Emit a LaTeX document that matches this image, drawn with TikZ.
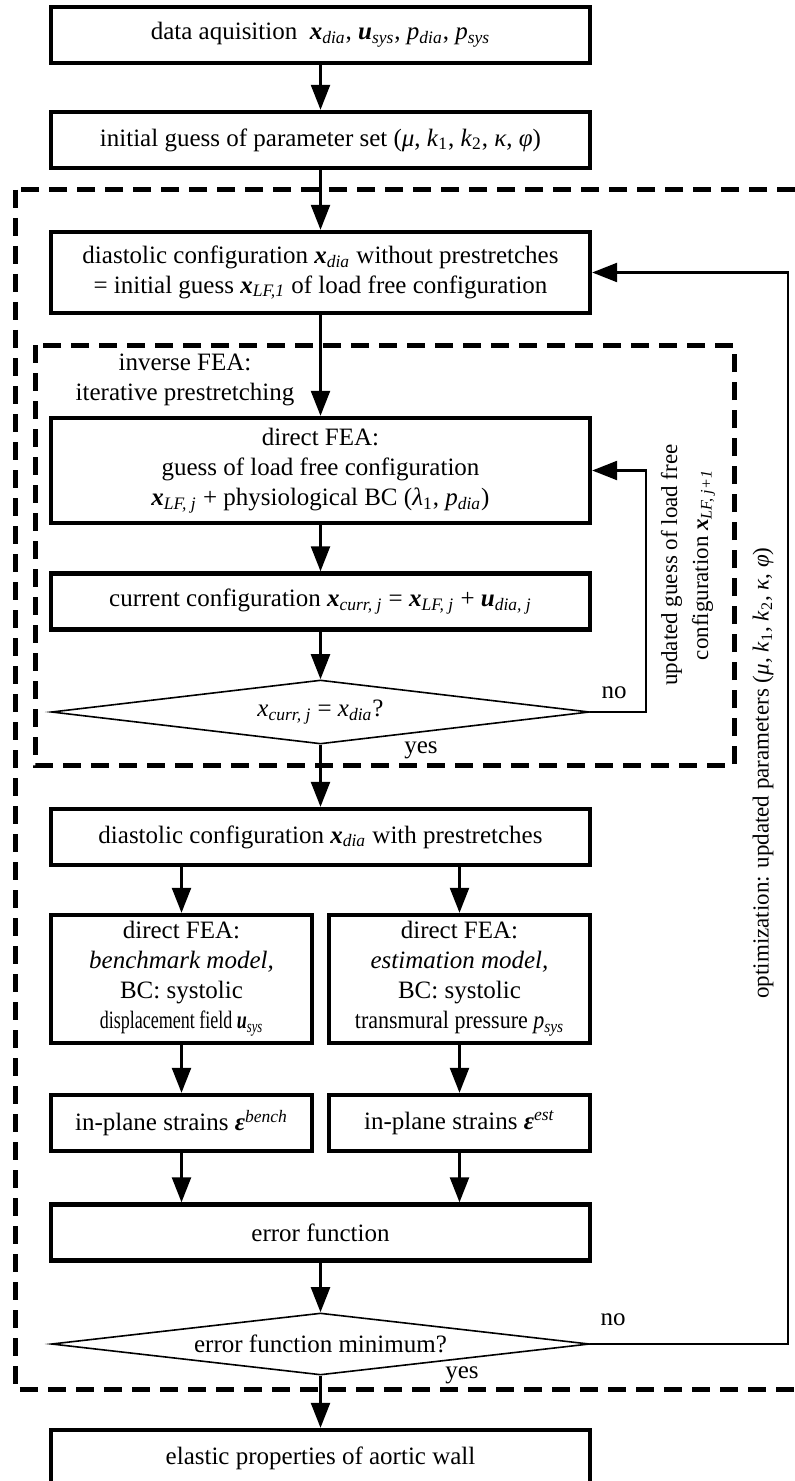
\documentclass[tikz,border=0pt]{standalone}
\usepackage{fontspec}
\usepackage{graphicx}
\setmainfont{Liberation Serif}
\usetikzlibrary{shapes.geometric,arrows.meta}

\newcommand{\bvec}[2]{\textbf{\textit{#1}}\textsubscript{\textit{#2}}}
\newcommand{\ivar}[2]{\textit{#1}\textsubscript{\textit{#2}}}

\begin{document}
\begin{tikzpicture}[
	x=0.5pt, y=-0.5pt,
	font=\fontsize{12.5}{15}\selectfont,
	block/.style={draw, line width=2.2pt, minimum width=269.5pt, minimum height=28pt, align=center, inner sep=1pt},
	halfblock/.style={block, minimum width=130.5pt},
	decision/.style={draw, diamond, line width=0.8pt, aspect=8.4, inner sep=0pt, minimum width=269pt, minimum height=32pt},
	frame/.style={draw, line width=2.5pt, dash pattern=on 9pt off 5pt},
	flow/.style={-{Triangle[length=12.5pt, width=9.5pt]}, line width=1.2pt},
	tag/.style={inner sep=0pt},
	sidetag/.style={tag, rotate=90, align=center, font=\fontsize{11.5}{15.5}\selectfont}
]
	\clip (0,0) rectangle (795,1481);
	% dashed frames
	\draw[frame] (15,190) rectangle (830,1389);
	\draw[frame] (35,345) rectangle (734,765);

	\node[block] (acq) at (320.5,35) {data aquisition \ \bvec{x}{dia}, \bvec{u}{sys}, \ivar{p}{dia}, \ivar{p}{sys}};
	\node[block] (guess) at (320.5,140) {initial guess of parameter set (\textit{μ}, \textit{k}\textsubscript{1}, \textit{k}\textsubscript{2}, \textit{κ}, \textit{φ})};
	\node[block, minimum height=40.5pt] (dia) at (320.5,272.5) {diastolic configuration \bvec{x}{dia} without prestretches\\ = initial guess \bvec{x}{LF,1} of load free configuration};
	\node[tag, align=center] (inverse) at (185,380) {inverse FEA:\\ iterative prestretching};
	\node[block, minimum height=52.5pt] (direct) at (320.5,470.5) {direct FEA:\\ guess of load free configuration\\ \bvec{x}{LF, j} + physiological BC (\textit{λ}\textsubscript{1}, \ivar{p}{dia})};
	\node[block] (curr) at (320.5,601.5) {current configuration \bvec{x}{curr, j} = \bvec{x}{LF, j} + \bvec{u}{dia, j}};
	\node[decision] (check1) at (320.5,712) {\ivar{x}{curr, j} = \ivar{x}{dia}?};
	\node[block] (pre) at (320.5,837) {diastolic configuration \bvec{x}{dia} with prestretches};
	\node[halfblock, minimum height=64pt] (bench) at (181.5,979) {direct FEA:\\ \textit{benchmark model,}\\ BC: systolic\\ \scalebox{0.72}[1]{displacement field \bvec{u}{sys}}};
	\node[halfblock, minimum height=64pt] (est) at (459.5,979) {direct FEA:\\ \textit{estimation model,}\\ BC: systolic\\ \scalebox{0.88}[1]{transmural pressure \ivar{p}{sys}}};
	\node[halfblock] (sbench) at (181.5,1123) {in-plane strains \textbf{\textit{ε}}\textsuperscript{\textit{bench}}};
	\node[halfblock] (sest) at (459.5,1123) {in-plane strains \textbf{\textit{ε}}\textsuperscript{\textit{est}}};
	\node[block] (err) at (320.5,1232.5) {error function};
	\node[decision, minimum height=31pt] (check2) at (320.5,1344) {error function minimum?};
	\node[block] (result) at (320.5,1458) {elastic properties of aortic wall};

	\node[sidetag] (upd) at (688,565) {updated guess of load free\\ configuration \bvec{x}{LF, j+1}};
	\node[sidetag] (opt) at (763,773) {optimization: updated parameters (\textit{μ}, \textit{k}\textsubscript{1}, \textit{k}\textsubscript{2}, \textit{κ}, \textit{φ})};
	\node[tag] (no1) at (614,693) {no};
	\node[tag] (yes1) at (421,750) {yes};
	\node[tag] (no2) at (613,1320) {no};
	\node[tag] (yes2) at (462,1375) {yes};

	\draw[flow] (acq) -- (guess);
	\draw[flow] (guess) -- (dia);
	\draw[flow] (dia) -- (direct);
	\draw[flow] (direct) -- (curr);
	\draw[flow] (curr) -- (check1);
	\draw[flow] (check1) -- (pre);
	\draw[flow] (pre.south -| bench) -- (bench);
	\draw[flow] (pre.south -| est) -- (est);
	\draw[flow] (bench) -- (sbench);
	\draw[flow] (est) -- (sest);
	\draw[flow] (sbench) -- (err.north -| sbench);
	\draw[flow] (sest) -- (err.north -| sest);
	\draw[flow] (err) -- (check2);
	\draw[flow] (check2) -- (result);

	% loops back
	\coordinate (turn1) at (646,712);
	\coordinate (turn2) at (788,1344);
	\draw[flow] (check1.east) -- (turn1) |- (direct.east);
	\draw[flow] (check2.east) -- (turn2) |- (dia.east);
\end{tikzpicture}
\end{document}
